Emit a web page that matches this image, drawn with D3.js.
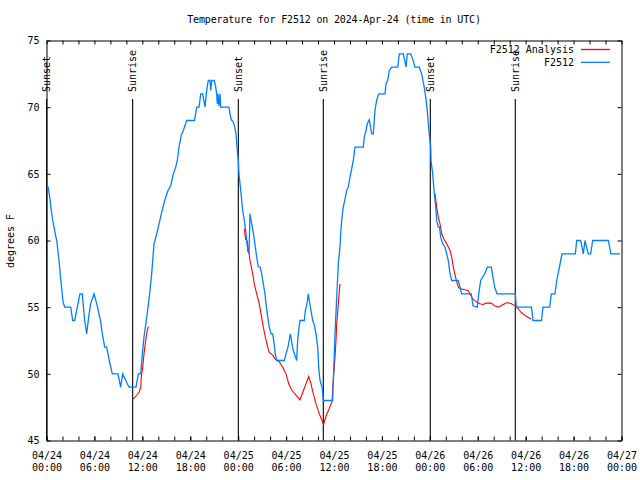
<!DOCTYPE html>
<html><head><meta charset="utf-8">
<script src="https://cdn.jsdelivr.net/npm/d3@7"></script>
<style>
body{margin:0;background:#fff}
text{font-family:"DejaVu Sans Mono","Liberation Mono",monospace;font-size:10px;fill:#000}
</style>
</head><body>
<svg id="chart" width="640" height="480"></svg>
<script>
// hours since 2024-04-24 00:00 UTC, temperature (degrees F)
const obsReadings = [
[0.19,64.05],[0.44,63.1],[0.6,62.25],[0.78,61.5],[0.94,61],[1.1,60.5],[1.28,60],[1.57,58.5],[1.78,57.1],[1.9,56.4],
[2.07,55.4],[2.28,55],[3.03,55],[3.28,54],[3.53,54],[3.86,55],[4.19,56],[4.48,56],[4.78,54],[5.03,53],
[5.28,54.25],[5.53,55.25],[5.95,56],[6.36,55.1],[6.79,53.9],[6.99,53],[7.29,52],[7.54,52],[7.86,51],[8.24,50],
[8.95,50],[9.29,49],[9.54,50],[10.12,49.25],[10.33,49],[11.21,49],[11.5,50],[11.8,50],[12.0,51.5],[12.21,52.75],
[12.55,54.25],[12.87,55.75],[13.17,57.5],[13.46,59.75],[13.59,60],[14.0,61],[14.38,62],[14.8,63],[15.21,63.75],[15.55,64.1],
[15.88,65],[16.18,65.5],[16.38,66],[16.59,67],[16.88,67.9],[17.13,68.25],[17.55,69],[18.53,69],[18.81,70],[19.1,70],
[19.31,71],[19.56,71],[19.85,70],[20.01,71],[20.14,71.6],[20.26,72],[20.47,72],[20.56,71.25],[20.69,72],[21.01,72],
[21.19,71.5],[21.31,71],[21.39,70.25],[21.48,71],[21.6,70.1],[21.73,71],[21.81,70],[22.85,70],[22.98,69.5],[23.14,69.05],
[23.39,68.9],[23.57,68.5],[23.73,68],[23.89,66.75],[24.02,66],[24.1,65],[24.32,63.75],[24.57,62.25],[24.77,61.5],[24.94,60.75],
[25.07,60],[25.19,59.25],[25.36,59],[25.48,62],[25.61,61.5],[25.77,61],[25.98,60.25],[26.15,59.5],[26.32,58.75],[26.52,58.05],
[26.77,58],[26.95,57.5],[27.15,56.75],[27.36,56],[27.49,55.25],[27.7,54.25],[27.9,53.5],[28.11,53],[28.32,53],[28.45,52.5],
[28.65,51.5],[28.83,51],[29.78,51],[29.99,51.5],[30.24,52],[30.53,53],[30.74,52.25],[30.9,51.75],[31.33,51],[31.45,52.5],
[31.58,53.25],[31.74,54],[32.28,54],[32.41,54.75],[32.62,55.25],[32.78,56],[32.91,55.5],[33.12,54.75],[33.33,54],[33.5,53.75],
[33.75,53],[33.96,52],[34.08,50.5],[34.25,49.5],[34.5,49],[34.59,48.5],[34.66,48],[35.84,48],[35.91,49.5],[36.04,51.5],
[36.16,53.5],[36.34,55.75],[36.54,58.25],[36.75,59.5],[36.84,60.5],[36.96,61.5],[37.16,62.5],[37.38,63.1],[37.59,63.75],[37.79,64],
[38.0,64.75],[38.22,65.4],[38.42,66],[38.63,67],[39.67,67],[39.79,67.75],[40.01,68.25],[40.17,68.75],[40.42,69.05],[40.72,68],
[40.92,68],[41.13,69.75],[41.34,70.5],[41.55,70.9],[41.67,71],[42.39,71],[42.51,71.75],[42.72,72],[42.93,72.75],[43.23,73],
[43.98,73],[44.18,74],[44.68,74],[44.89,73.4],[45.02,73],[45.18,74],[45.6,74],[45.86,73.6],[46.14,73],[46.68,73],
[46.98,72.5],[47.27,71.6],[47.52,70.6],[47.68,69.75],[47.81,68.75],[47.93,68],[48.11,67],[48.15,66],[48.36,65],[48.56,63.5],
[48.74,62.5],[48.86,61.5],[49.06,61],[49.21,61],[49.36,60.25],[49.61,59.75],[49.9,59.5],[50.11,59],[50.31,58.5],[50.53,57.5],
[50.74,57],[51.57,57],[51.78,56.5],[51.97,56],[53.19,56],[53.41,55.1],[53.94,55],[54.12,56],[54.37,57],[54.87,57.5],
[55.2,58],[55.7,58],[55.91,57.25],[56.12,56.5],[56.41,56],[58.7,56],[58.83,55],[60.73,55],[60.92,54],[61.98,54],
[62.17,55],[63.01,55],[63.21,56],[63.67,56],[63.89,57],[64.39,58.5],[64.55,59],[66.22,59],[66.39,60],[66.89,60],
[67.22,59],[67.43,60],[67.62,59.5],[67.84,59],[68.14,59],[68.39,60],[70.35,60],[70.52,59.5],[70.68,59],[71.81,59]
];
// analysis: three separate runs
const analysisRun1 = [
[10.74,48.05],[11.17,48.3],[11.58,48.6],[11.8,49],[11.87,49.75],[12.05,50.5],[12.21,51.5],[12.42,52.5],[12.62,53.25],[12.75,53.55]
];
const analysisRun2 = [
[24.77,60.9],[24.92,60.1],[25.14,59.95],[25.48,58.5],[25.82,57.5],[26.02,56.75],[26.32,56],[26.65,55.25],[26.86,54.5],[27.15,53.5],
[27.4,52.75],[27.7,52],[27.9,51.6],[28.32,51.4],[28.65,51.1],[29.15,50.9],[29.58,50.5],[29.99,50],[30.33,49.25],[30.74,48.75],
[31.24,48.4],[31.74,48.05],[32.08,48.6],[32.49,49.25],[32.83,49.8],[33.12,49.25],[33.41,48.5],[33.75,47.75],[34.16,47],[34.5,46.5],
[34.69,46.2],[35.04,46.9],[35.41,47.4],[35.75,47.9],[35.91,49.5],[36.13,51.25],[36.25,52.5],[36.34,53.75],[36.54,55.25],[36.75,56.75]
];
const analysisRun3 = [
[48.65,63.5],[48.86,62.5],[49.06,61.75],[49.27,61.25],[49.49,60.5],[49.77,60.1],[50.11,59.75],[50.53,59.25],[50.74,58.75],[50.94,58],
[51.28,57.1],[51.57,56.5],[51.78,56.4],[52.37,56.3],[52.78,56.25],[52.99,56],[53.41,55.6],[53.82,55.4],[54.25,55.25],[54.66,55.2],
[55.07,55.3],[55.7,55.3],[56.12,55.1],[56.62,55],[57.16,55.2],[57.7,55.35],[58.2,55.25],[58.7,55.1],[59.04,54.9],[59.45,54.6],
[59.88,54.4],[60.29,54.25],[60.71,54.1]
];
const sunHours = [0.02, 10.79, 24.02, 34.66, 48.06, 58.7];
const sunLabels = ["Sunset","Sunrise","Sunset","Sunrise","Sunset","Sunrise"];
const xMajorHours = [0,6,12,18,24,30,36,42,48,54,60,66,72];
const xTickDates = ["04/24","04/24","04/24","04/24","04/25","04/25","04/25","04/25","04/26","04/26","04/26","04/26","04/27"];
const xTickTimes = ["00:00","06:00","12:00","18:00","00:00","06:00","12:00","18:00","00:00","06:00","12:00","18:00","00:00"];
const xMinorHours = d3.range(0, 73, 2);
const yTicks = [45,50,55,60,65,70,75];
const seriesNames = ["F2512 Analysis","F2512"];
const seriesColors = ["#ff0000","#0080ff"];
const titleText = "Temperature for F2512 on 2024-Apr-24 (time in UTC)";
const yLabel = "degrees F";

const svg = d3.select("#chart");
const L = 46.5, R = 621.5, T = 40.5, B = 440.5;
const x = d3.scaleLinear().domain([0,72]).range([L,R]);
const y = d3.scaleLinear().domain([45,75]).range([B,T]);

// title
svg.append("text").attr("x",(L+R)/2).attr("y",23).attr("text-anchor","middle")
  .style("letter-spacing","-0.15px").text(titleText);

// y label
svg.append("text").attr("transform","translate(14,241) rotate(-90)").attr("text-anchor","middle").text(yLabel);

// sun lines
const sun = svg.append("g");
sunHours.forEach((h,i)=>{
  sun.append("line").attr("x1",x(h)).attr("x2",x(h)).attr("y1",99).attr("y2",B)
    .attr("stroke","#000").attr("stroke-width",1.1);
  sun.append("text").attr("transform",`translate(${x(h)},92) rotate(-90)`).attr("dy","0.35em")
    .attr("text-anchor","start").text(sunLabels[i]);
});

// axes
function styleAxis(g){ g.selectAll("path").attr("stroke","#000").attr("stroke-width",1);
  g.selectAll("line").attr("stroke","#000"); g.selectAll("text").attr("fill","#000")
   .style("font-family",'"DejaVu Sans Mono",monospace').style("font-size","10px"); }
const gBottom = svg.append("g").attr("transform",`translate(0,${B})`)
  .call(d3.axisBottom(x).tickValues(xMajorHours).tickSizeInner(-4).tickSizeOuter(0).tickPadding(11)
    .tickFormat((d,i)=>xTickDates[i]));
gBottom.selectAll(".tick text").each(function(d,i){
  const t = d3.select(this); t.text(null).attr("dy",null);
  t.append("tspan").attr("x",0).attr("dy","0.71em").text(xTickDates[i]);
  t.append("tspan").attr("x",0).attr("dy","1.27em").text(xTickTimes[i]);
});
svg.append("g").attr("transform",`translate(0,${B})`)
  .call(d3.axisBottom(x).tickValues(xMinorHours).tickSizeInner(-4).tickSizeOuter(0).tickFormat(""))
  .call(g=>g.select(".domain").remove()).call(styleAxis);
svg.append("g").attr("transform",`translate(0,${T})`)
  .call(d3.axisTop(x).tickValues(xMinorHours).tickSizeInner(-4).tickSizeOuter(0).tickFormat("")).call(styleAxis);
svg.append("g").attr("transform",`translate(${L},0)`)
  .call(d3.axisLeft(y).tickValues(yTicks).tickSizeInner(-4).tickSizeOuter(0).tickPadding(7)).call(styleAxis);
svg.append("g").attr("transform",`translate(${R},0)`)
  .call(d3.axisRight(y).tickValues(yTicks).tickSizeInner(-4).tickSizeOuter(0).tickFormat("")).call(styleAxis);
styleAxis(gBottom);

// series
const line = d3.line().x(d=>x(d[0])).y(d=>y(d[1]));
[analysisRun1, analysisRun2, analysisRun3].forEach(run=>{
  svg.append("path").datum(run).attr("d",line).attr("fill","none")
    .attr("stroke",seriesColors[0]).attr("stroke-width",1.1);
});
svg.append("path").datum(obsReadings).attr("d",line).attr("fill","none")
  .attr("stroke",seriesColors[1]).attr("stroke-width",1.3);

// legend
const leg = svg.append("g");
seriesNames.forEach((n,i)=>{
  const yy = 49.5 + i*12.8;
  leg.append("text").attr("x",574).attr("y",yy).attr("dy","0.35em").attr("text-anchor","end").text(n);
  leg.append("line").attr("x1",581).attr("x2",610).attr("y1",yy).attr("y2",yy)
    .attr("stroke",seriesColors[i]).attr("stroke-width",1.3);
});
</script>
</body></html>
